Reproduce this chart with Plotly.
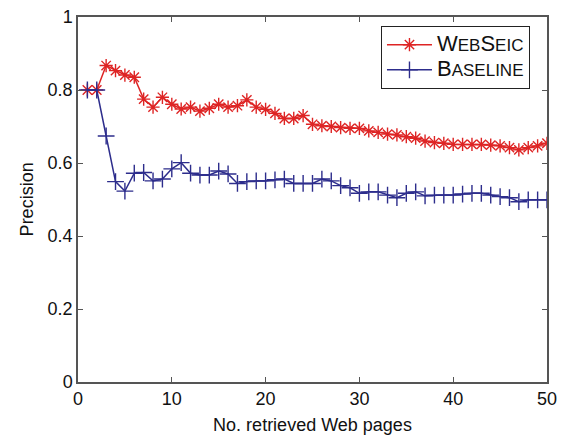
import plotly.graph_objects as go

pages = list(range(1, 51))

webseic = [0.800, 0.800, 0.867, 0.853, 0.841, 0.835, 0.775, 0.753, 0.780, 0.761,
           0.748, 0.753, 0.742, 0.750, 0.761, 0.753, 0.757, 0.773, 0.753, 0.747,
           0.736, 0.722, 0.722, 0.730, 0.706, 0.702, 0.700, 0.697, 0.695, 0.695,
           0.688, 0.684, 0.679, 0.677, 0.672, 0.668, 0.660, 0.656, 0.654, 0.651,
           0.651, 0.651, 0.651, 0.649, 0.647, 0.642, 0.636, 0.642, 0.647, 0.654]

baseline = [0.800, 0.800, 0.674, 0.549, 0.523, 0.572, 0.574, 0.551, 0.556, 0.584,
            0.601, 0.572, 0.567, 0.567, 0.578, 0.570, 0.544, 0.549, 0.551, 0.551,
            0.554, 0.556, 0.544, 0.544, 0.544, 0.556, 0.551, 0.538, 0.532, 0.517,
            0.521, 0.521, 0.512, 0.505, 0.517, 0.521, 0.510, 0.512, 0.512, 0.512,
            0.515, 0.517, 0.517, 0.512, 0.508, 0.505, 0.494, 0.499, 0.499, 0.499]

x_ticks = [0, 10, 20, 30, 40, 50]
x_ticktext = ["0", "10", "20", "30", "40", "50"]
y_ticks = [0, 0.2, 0.4, 0.6, 0.8, 1]
y_ticktext = ["0", "0.2", "0.4", "0.6", "0.8", "1"]

x_title = "No. retrieved Web pages"
y_title = "Precision"

red = "rgb(222,36,36)"
blue = "rgb(45,45,140)"
axis_col = "#555555"
font_family = "Arial, Liberation Sans, sans-serif"

big = "<span style='font-size:22px'>{}</span>"

fig = go.Figure()
fig.add_trace(go.Scatter(
    x=pages, y=webseic, mode="lines+markers",
    name=big.format("W") + "EB" + big.format("S") + "EIC",
    line=dict(color=red, width=1.5),
    marker=dict(symbol="asterisk-open", size=11, color=red,
                line=dict(color=red, width=1.4)),
))
fig.add_trace(go.Scatter(
    x=pages, y=baseline, mode="lines+markers",
    name=big.format("B") + "ASELINE",
    line=dict(color=blue, width=1.5),
    marker=dict(symbol="cross-thin-open", size=12, color=blue,
                line=dict(color=blue, width=1.4)),
))

fig.update_layout(
    width=563, height=435,
    margin=dict(l=78, r=16, t=17, b=53),
    paper_bgcolor="white", plot_bgcolor="white",
    font=dict(family=font_family, size=18, color="#111111"),
    showlegend=True,
    legend=dict(
        x=0.646, y=0.975, xanchor="left", yanchor="top",
        bgcolor="white", bordercolor="#222222", borderwidth=1,
        font=dict(size=17, family=font_family, color="#111111"),
        itemwidth=45, tracegroupgap=0,
    ),
    xaxis=dict(
        range=[0, 50], tickvals=x_ticks, ticktext=x_ticktext,
        ticks="inside", ticklen=5, tickcolor=axis_col, tickwidth=1,
        showline=True, linecolor=axis_col, linewidth=1.5, mirror="ticks",
        showgrid=False, zeroline=False, automargin=False,
        title=dict(text=x_title, font=dict(size=18)),
        tickfont=dict(size=18),
    ),
    yaxis=dict(
        range=[0, 1], tickvals=y_ticks, ticktext=y_ticktext,
        ticks="inside", ticklen=5, tickcolor=axis_col, tickwidth=1,
        showline=True, linecolor=axis_col, linewidth=1.5, mirror="ticks",
        showgrid=False, zeroline=False, automargin=False,
        tickfont=dict(size=18),
    ),
    annotations=[dict(
        text=y_title, textangle=-90, showarrow=False,
        xref="paper", yref="paper", x=-0.109, y=0.5,
        xanchor="center", yanchor="middle",
        font=dict(size=18, family=font_family, color="#111111"),
    )],
)

fig.write_html(
    "out.html",
    config={"displayModeBar": False},
    post_script="document.body.style.margin='0';document.body.style.padding='0';document.body.style.overflow='hidden';",
)
